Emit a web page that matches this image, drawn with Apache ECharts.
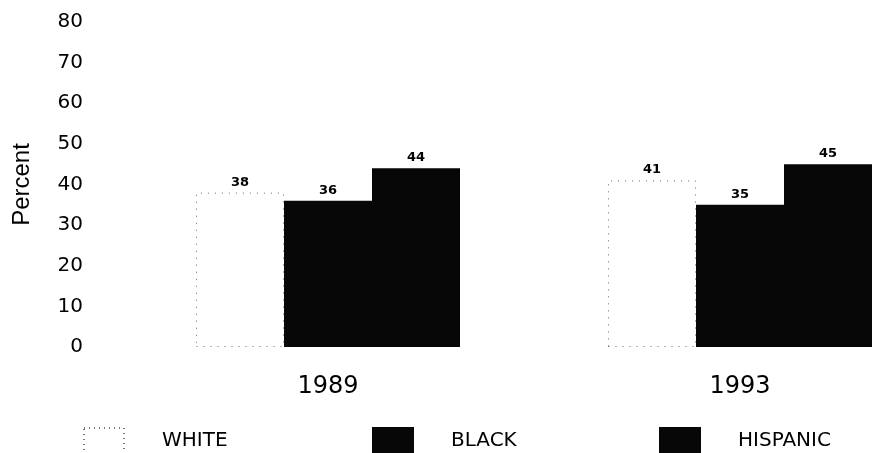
<!DOCTYPE html>
<html>
<head>
<meta charset="utf-8">
<script src="https://cdn.jsdelivr.net/npm/echarts@6/dist/echarts.min.js"></script>
<style>
  html, body { margin: 0; padding: 0; background: #fff; }
  #chart { width: 878px; height: 453px; }
</style>
</head>
<body>
<div id="chart"></div>
<script>
// data
var years = ['1989', '1993'];
var groups = ['WHITE', 'BLACK', 'HISPANIC'];
var white = [38, 41];
var black = [36, 35];
var hispanic = [44, 45];
var yTicks = [0, 10, 20, 30, 40, 50, 60, 70, 80];

var chart = echarts.init(document.getElementById('chart'));

var labelStyle = {
  show: true,
  position: 'top',
  distance: 4,
  color: '#000',
  fontFamily: 'DejaVu Sans',
  fontWeight: 'bold',
  fontSize: 13
};

var whiteStyle = {
  color: '#fff',
  borderColor: '#666',
  borderWidth: 1,
  borderType: [1, 6]
};
var darkStyle = {
  color: '#070707',
  borderColor: '#070707',
  borderWidth: 2
};

function legendAt(item, left) {
  return {
    data: [item],
    left: left,
    top: 427,
    padding: 0,
    icon: 'rect',
    itemWidth: 40,
    itemHeight: 26,
    selectedMode: false,
    textStyle: {
      color: '#000',
      fontFamily: 'DejaVu Sans',
      fontSize: 20,
      padding: [0, 0, 0, 33]
    }
  };
}

var option = {
  animation: false,
  backgroundColor: '#fff',
  legend: [
    legendAt({ name: groups[0], itemStyle: { borderType: [1, 4], borderColor: '#777' } }, 83),
    legendAt(groups[1], 372),
    legendAt(groups[2], 659)
  ],
  grid: {
    left: 122,
    top: 22,
    width: 824,
    height: 325,
    outerBoundsMode: 'none'
  },
  xAxis: {
    type: 'category',
    data: years,
    axisLine: { show: false },
    axisTick: { show: false },
    axisLabel: {
      color: '#000',
      fontFamily: 'DejaVu Sans',
      fontSize: 24,
      margin: 28
    }
  },
  yAxis: {
    type: 'value',
    min: yTicks[0],
    max: yTicks[yTicks.length - 1],
    interval: 10,
    name: 'Percent',
    nameLocation: 'middle',
    nameGap: 88,
    nameTextStyle: {
      color: '#000',
      fontFamily: 'Liberation Sans',
      fontSize: 24
    },
    axisLine: { show: false },
    axisTick: { show: false },
    splitLine: { show: false },
    axisLabel: {
      color: '#000',
      fontFamily: 'DejaVu Sans',
      fontSize: 20,
      margin: 39
    }
  },
  series: [
    {
      name: groups[0],
      type: 'bar',
      data: white,
      barWidth: 88,
      barGap: '0%',
      itemStyle: whiteStyle,
      label: labelStyle
    },
    {
      name: groups[1],
      type: 'bar',
      data: black,
      barWidth: 88,
      barGap: '0%',
      itemStyle: darkStyle,
      label: labelStyle
    },
    {
      name: groups[2],
      type: 'bar',
      data: hispanic,
      barWidth: 88,
      barGap: '0%',
      itemStyle: darkStyle,
      label: labelStyle
    }
  ]
};

chart.setOption(option);
</script>
</body>
</html>
